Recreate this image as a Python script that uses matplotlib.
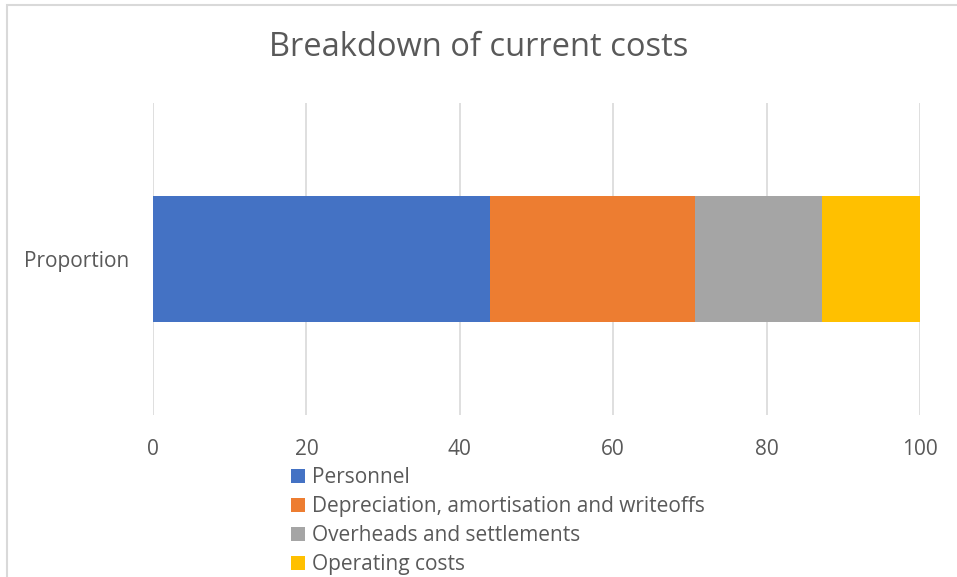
import matplotlib.pyplot as plt
from matplotlib.patches import Rectangle

categories = ['Proportion']
series = ['Personnel', 'Depreciation, amortisation and writeoffs',
          'Overheads and settlements', 'Operating costs']
values = [44.0, 26.7, 16.5, 12.8]
colors = ['#4472C4', '#ED7D31', '#A5A5A5', '#FFC000']
xticks = [0, 20, 40, 60, 80, 100]

plt.rcParams['font.family'] = ['Open Sans', 'DejaVu Sans']
textColor = '#595959'

fig = plt.figure(figsize=(9.57, 5.77), dpi=100)
fig.patches.append(Rectangle((7 / 957, -0.1), 1.2, 1 - 5 / 577 + 0.1, transform=fig.transFigure,
                             fill=False, edgecolor='#d9d9d9', linewidth=1.5))
ax = fig.add_axes([153 / 957, 1 - 415 / 577, (920 - 153) / 957, (415 - 103) / 577])

left = 0
for name, val, col in zip(series, values, colors):
    ax.barh(categories, [val], left=left, height=0.404, color=col, label=name, zorder=3)
    left += val

ax.set_xlim(0, 100)
ax.set_ylim(-0.5, 0.5)
ax.set_xticks(xticks)
ax.grid(axis='x', color='#d9d9d9', linewidth=1.2, zorder=0)
for s in ax.spines.values():
    s.set_visible(False)
ax.tick_params(length=0, labelsize=15, labelcolor=textColor)
ax.tick_params(axis='x', pad=17)
ax.tick_params(axis='y', pad=17)

fig.text(0.5, 1 - 47 / 577, 'Breakdown of current costs', ha='center', va='center',
         fontsize=23.5, color=textColor)

fig.legend(loc='upper left', bbox_to_anchor=(281 / 957, 1 - 457 / 577), frameon=False,
           fontsize=15, labelcolor=textColor, handlelength=0.65, handleheight=0.65,
           handletextpad=0.35, labelspacing=0.38, borderpad=0)

fig.savefig('out.png', dpi=100)
